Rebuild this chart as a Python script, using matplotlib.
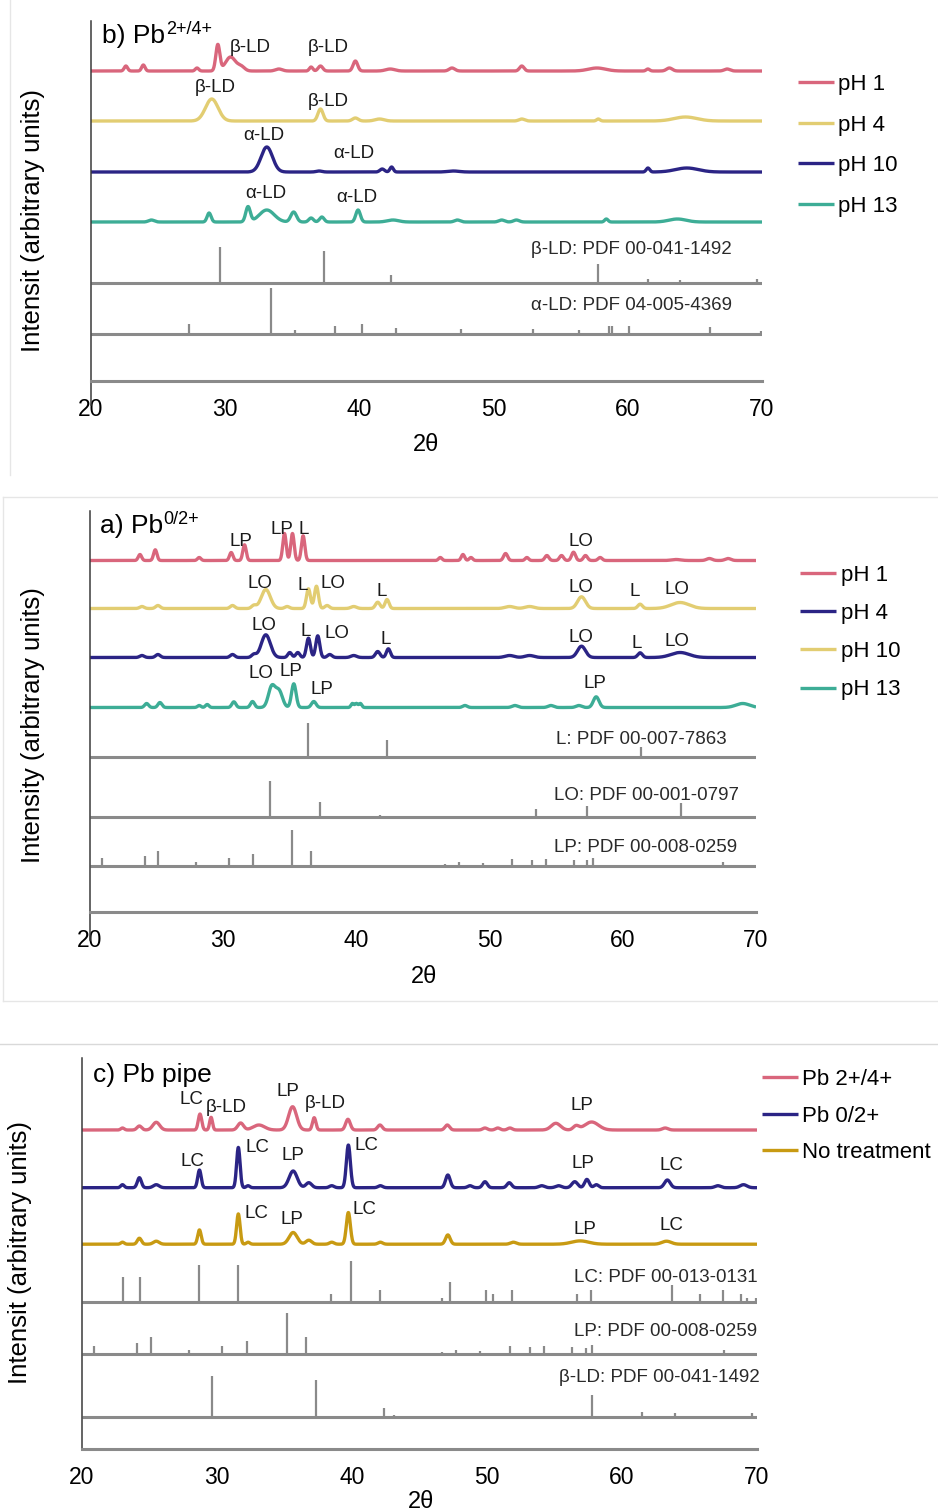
import numpy as np
import matplotlib
matplotlib.use("Agg")
import matplotlib.pyplot as plt
from matplotlib.lines import Line2D

plt.rcParams["font.family"] = ["Liberation Sans", "DejaVu Sans"]

# ---- data ----
# sample patterns: (2theta, peak height, peak FWHM in degrees)
b_ph1 = [(22.6, 5, 0.3), (23.9, 6, 0.3), (27.9, 3, 0.3), (29.45, 26, 0.35), (30.4, 14, 0.9),
         (31.2, 4, 0.6), (34.0, 2, 0.6), (36.4, 4, 0.3), (37.1, 5, 0.4), (39.7, 10, 0.4),
         (42.3, 2, 0.8), (46.9, 3, 0.5), (52.1, 5, 0.4), (57.7, 3, 1.5), (61.5, 2, 0.3),
         (63.1, 3, 0.5), (67.4, 2, 0.5)]
b_ph4 = [(29.0, 22, 1.1), (37.1, 12, 0.45), (39.7, 3, 0.5), (41.5, 2, 0.8), (52.1, 2, 0.5),
         (57.8, 2, 0.3), (64.3, 4, 2.0)]
b_ph10 = [(33.1, 25, 1.0), (37.0, 1, 0.5), (41.7, 3, 0.4), (42.4, 5, 0.3), (47.0, 1, 1.0),
          (61.5, 4, 0.3), (64.4, 4, 2.0)]
b_ph13 = [(24.5, 2, 0.5), (28.8, 9, 0.35), (31.7, 15, 0.4), (33.1, 12, 1.3), (35.1, 10, 0.5),
          (36.4, 4, 0.4), (37.2, 5, 0.4), (39.9, 12, 0.4), (42.5, 2, 1.0), (47.3, 2, 0.5),
          (50.6, 2, 0.5), (51.7, 2, 0.5), (58.4, 3, 0.3), (63.7, 3, 1.5)]

a_ph1 = [(23.75, 6, 0.3), (24.9, 10.7, 0.3), (28.2, 3, 0.3), (30.6, 8, 0.3), (31.6, 15.7, 0.3),
         (34.6, 27, 0.3), (35.2, 27, 0.3), (36.0, 24.7, 0.3), (46.3, 3, 0.3), (48.0, 6, 0.3),
         (48.6, 3, 0.3), (51.2, 7, 0.35), (52.8, 3, 0.3), (54.3, 5, 0.35), (55.4, 5, 0.35),
         (56.3, 8.3, 0.35), (57.2, 5, 0.35), (58.3, 3, 0.35), (64.0, 1, 0.8), (66.5, 2, 0.5),
         (67.9, 2, 0.5)]
a_ph10 = [(23.9, 2, 0.4), (25.1, 3, 0.4), (30.7, 3, 0.4), (32.3, 3, 0.4), (33.2, 19, 0.8),
          (34.8, 2, 0.4), (36.4, 19.7, 0.35), (37.0, 22.3, 0.35), (37.8, 3, 0.4), (39.8, 2, 0.5),
          (41.6, 6.3, 0.4), (42.3, 9, 0.35), (51.5, 2, 0.8), (53.0, 2, 0.8), (56.9, 11.7, 0.7),
          (61.3, 4.3, 0.4), (64.3, 6, 1.6)]
a_ph4 = [(23.9, 2, 0.4), (25.1, 3, 0.4), (30.7, 3, 0.4), (32.3, 3, 0.4), (33.2, 22.7, 0.8),
         (35.0, 5, 0.35), (35.6, 5, 0.35), (36.4, 19.3, 0.35), (37.1, 21.7, 0.35), (38.0, 3, 0.4),
         (39.8, 2, 0.5), (41.6, 6, 0.4), (42.4, 8.7, 0.35), (51.5, 2, 0.8), (53.0, 2, 0.8),
         (56.9, 11.3, 0.7), (61.3, 4.7, 0.4), (64.3, 5, 1.6)]
a_ph13 = [(24.25, 4, 0.35), (25.25, 5, 0.35), (28.2, 2, 0.3), (28.8, 3, 0.3), (30.8, 5.7, 0.35),
          (32.2, 6, 0.35), (33.65, 21, 0.6), (34.2, 16, 0.6), (35.3, 23.7, 0.4), (36.8, 6, 0.4),
          (39.7, 4, 0.25), (40.0, 4, 0.25), (40.3, 4, 0.25), (48.15, 2, 0.4), (51.9, 2, 0.5),
          (54.6, 2, 0.5), (56.7, 2, 0.5), (58.0, 10.7, 0.5), (69.0, 4, 1.2)]

c_pb24 = [(23.0, 2, 0.3), (24.25, 4, 0.4), (25.5, 7.7, 0.6), (28.74, 16, 0.3), (29.56, 12.7, 0.25),
          (31.75, 7, 0.5), (33.1, 5, 1.0), (35.6, 23.3, 0.7), (37.2, 12.3, 0.3), (39.7, 10.7, 0.4),
          (42.07, 5, 0.4), (47.06, 5, 0.4), (49.85, 2, 0.4), (50.8, 2, 0.4), (51.7, 2, 0.4),
          (55.1, 6.7, 0.8), (56.6, 4, 0.5), (57.75, 8, 1.2), (63.2, 2, 0.5)]
c_pb02 = [(23.0, 3, 0.3), (24.25, 10, 0.35), (25.5, 3, 0.5), (28.7, 17.7, 0.3), (31.58, 40.3, 0.3),
          (32.3, 2, 0.3), (35.64, 16.7, 0.7), (36.8, 5, 0.5), (38.5, 2, 0.4), (39.73, 42.7, 0.35),
          (42.1, 2, 0.4), (47.1, 12.7, 0.4), (48.74, 2, 0.4), (49.85, 6, 0.4), (51.65, 5, 0.4),
          (54.05, 2, 0.5), (55.3, 2, 0.5), (56.5, 6, 0.5), (57.4, 8.3, 0.4), (58.1, 3, 0.4),
          (63.36, 7.7, 0.5), (67.1, 2, 0.5), (69.0, 3, 0.6)]
c_none = [(23.0, 2, 0.3), (24.25, 6, 0.35), (25.5, 3, 0.5), (28.7, 14.3, 0.3), (31.58, 30.3, 0.3),
          (32.3, 2, 0.3), (35.64, 11.7, 0.7), (36.8, 4, 0.5), (38.5, 2, 0.4), (39.73, 31.7, 0.35),
          (42.1, 2, 0.4), (47.1, 9.3, 0.4), (51.95, 2, 0.5), (56.9, 3.3, 1.5), (63.3, 3, 0.8)]

# reference cards: stick positions and relative intensities
beta_ld_pos = [29.6, 37.35, 42.35, 43.1, 57.8, 61.5, 63.9, 69.65]
beta_ld_int = [100, 89, 22, 3, 52, 12, 8, 10]
alpha_ld_pos = [27.3, 33.4, 35.2, 38.2, 40.2, 42.7, 47.6, 52.9, 56.4, 58.6, 58.8, 60.1, 66.1, 69.9]
alpha_ld_int = [22, 100, 9, 17, 22, 13, 11, 11, 9, 17, 17, 17, 15, 7]
l_pos = [36.4, 42.3, 61.4]
l_int = [100, 50, 29]
lo_pos = [33.5, 37.3, 41.8, 53.5, 57.3, 64.4]
lo_int = [100, 41, 6, 22, 31, 39]
lp_pos = [20.9, 24.1, 25.1, 27.95, 30.4, 32.2, 35.17, 36.6, 46.65, 47.7, 49.5, 51.68, 53.18,
          54.22, 56.3, 57.3, 57.75, 67.55]
lp_int = [21, 27, 42, 11, 21, 33, 100, 42, 6, 11, 8, 19, 17, 19, 17, 16, 22, 11]
lc_pos = [23.06, 24.3, 28.67, 31.56, 38.47, 39.9, 42.07, 46.67, 47.29, 49.92, 50.45, 51.88,
          56.7, 57.67, 63.73, 65.8, 67.45, 68.8, 69.25, 69.92]
lc_int = [61, 61, 91, 91, 20, 100, 30, 11, 50, 30, 20, 30, 20, 30, 41, 20, 30, 20, 10, 10]

b_labels = ["pH 1", "pH 4", "pH 10", "pH 13"]
a_labels = ["pH 1", "pH 10", "pH 4", "pH 13"]
a_legend_order = [0, 2, 1, 3]
c_labels = ["Pb 2+/4+", "Pb 0/2+", "No treatment"]
xticks = [20, 30, 40, 50, 60, 70]

# ---- styling ----
PINK = "#d9667c"
YELLOW = "#e2cd72"
NAVY = "#2b2485"
TEAL = "#3dad96"
GOLD = "#c89a12"
GREY = "#8a8a8a"

W, H = 938, 1511
fig = plt.figure(figsize=(W / 100, H / 100), dpi=100)
twotheta = np.linspace(20, 70, 2501)


def fx(px):
    return px / W


def fy(py):
    return 1 - py / H


def make_axes(left, right, top, bottom, ext):
    # ext: how far the left spine runs on below the x axis
    ax = fig.add_axes([fx(left), fy(bottom + ext), (right - left) / W, (bottom + ext - top) / H])
    ax.set_xlim(20, 70)
    ax.set_ylim(-ext, bottom - top)
    for s in ["top", "right"]:
        ax.spines[s].set_visible(False)
    ax.spines["left"].set_color("#3a3a3a")
    ax.spines["left"].set_linewidth(1.1)
    ax.spines["bottom"].set_position(("data", 0))
    ax.spines["bottom"].set_color(GREY)
    ax.spines["bottom"].set_linewidth(2.2)
    ax.set_xticks(xticks)
    ax.set_yticks([])
    ax.tick_params(axis="x", length=0, pad=12, labelsize=16.5)
    return ax


def pattern(ax, peaks, offset, color, label):
    y = np.full_like(twotheta, offset, dtype=float)
    for pos, hgt, fwhm in peaks:
        y += hgt * np.exp(-4 * np.log(2) * (twotheta - pos) ** 2 / fwhm ** 2)
    line, = ax.plot(twotheta, y, color=color, lw=2.4, label=label, solid_capstyle="butt")
    return line


def card(ax, pos, inten, offset, scale, text, tx, ty):
    ax.hlines(offset, 20, 70, color=GREY, lw=2.2)
    ax.vlines(pos, offset, offset + np.array(inten) * scale / 100, color=GREY, lw=1.6)
    ax.text(tx, ty, text, ha="center", va="center", fontsize=13.5, color="#2a2a2a")


def note(ax, items):
    for s, x, y in items:
        ax.text(x, y, s, ha="center", va="center", fontsize=13.5, color="#1a1a1a")


def frame_line(x0, y0, x1, y1, color="#e6e6e6"):
    fig.add_artist(Line2D([fx(x0), fx(x1)], [fy(y0), fy(y1)], transform=fig.transFigure,
                          color=color, lw=1))


# ---------------- panel b ----------------
axb = make_axes(91, 762, 21, 381, 24)
lb = [pattern(axb, b_ph1, 310, PINK, b_labels[0]),
      pattern(axb, b_ph4, 260, YELLOW, b_labels[1]),
      pattern(axb, b_ph10, 209, NAVY, b_labels[2]),
      pattern(axb, b_ph13, 159, TEAL, b_labels[3])]
card(axb, beta_ld_pos, beta_ld_int, 98, 36, "β-LD: PDF 00-041-1492", 60.3, 132)
card(axb, alpha_ld_pos, alpha_ld_int, 47, 46, "α-LD: PDF 04-005-4369", 60.3, 76)
note(axb, [("β-LD", 31.85, 333), ("β-LD", 37.66, 334), ("β-LD", 29.24, 294), ("β-LD", 37.66, 280),
           ("α-LD", 32.89, 245), ("α-LD", 39.6, 228), ("α-LD", 33.04, 188), ("α-LD", 39.82, 184)])
fig.legend(handles=lb, labels=b_labels, loc="upper left", bbox_to_anchor=(fx(798), fy(74)),
           frameon=False, fontsize=16, handlelength=1.6, handletextpad=0.18,
           labelspacing=0.88, borderpad=0, borderaxespad=0)
fig.text(fx(102), fy(43), "b) Pb", fontsize=19, va="baseline")
fig.text(fx(166), fy(34), "2+/4+", fontsize=13, va="baseline")
fig.text(fx(33), fy(220), "Intensit (arbitrary units)", rotation=90, ha="center", va="center",
         fontsize=18.5)
fig.text(fx(426), fy(445), "2θ", ha="center", va="center", fontsize=17)

# ---------------- panel a ----------------
axa = make_axes(90, 756, 511, 912, 28)
la = [pattern(axa, a_ph1, 351.5, PINK, a_labels[0]),
      pattern(axa, a_ph10, 303.5, YELLOW, a_labels[1]),
      pattern(axa, a_ph4, 254.5, NAVY, a_labels[2]),
      pattern(axa, a_ph13, 204.5, TEAL, a_labels[3])]
card(axa, l_pos, l_int, 154.7, 34.7, "L: PDF 00-007-7863", 61.4, 173)
card(axa, lo_pos, lo_int, 95.3, 36, "LO: PDF 00-001-0797", 61.8, 117)
card(axa, lp_pos, lp_int, 46, 36, "LP: PDF 00-008-0259", 61.7, 65)
note(axa, [("LP", 31.34, 370), ("LP", 34.39, 383), ("L", 36.07, 383), ("LO", 56.86, 371),
           ("LO", 32.76, 329), ("L", 35.97, 326), ("LO", 38.27, 329), ("L", 41.9, 321),
           ("LO", 56.84, 325), ("L", 60.92, 320), ("LO", 64.05, 322),
           ("LO", 33.09, 286), ("L", 36.22, 281), ("LO", 38.52, 279), ("L", 42.22, 272),
           ("LO", 56.86, 275), ("L", 61.04, 269), ("LO", 64.09, 271),
           ("LO", 32.84, 239), ("LP", 35.07, 241), ("LP", 37.4, 223), ("LP", 57.91, 229)])
fig.legend(handles=[la[i] for i in a_legend_order], labels=[a_labels[i] for i in a_legend_order],
           loc="upper left", bbox_to_anchor=(fx(800), fy(564.5)), frameon=False, fontsize=16,
           handlelength=1.6, handletextpad=0.25, labelspacing=0.78, borderpad=0, borderaxespad=0)
fig.text(fx(100), fy(533), "a) Pb", fontsize=19, va="baseline")
fig.text(fx(163), fy(524), "0/2+", fontsize=13, va="baseline")
fig.text(fx(33), fy(725), "Intensity (arbitrary units)", rotation=90, ha="center", va="center",
         fontsize=18.5)
fig.text(fx(424), fy(977), "2θ", ha="center", va="center", fontsize=17)

# ---------------- panel c ----------------
axc = make_axes(82, 757, 1058, 1449, 0)
lc = [pattern(axc, c_pb24, 319, PINK, c_labels[0]),
      pattern(axc, c_pb02, 261.3, NAVY, c_labels[1]),
      pattern(axc, c_none, 204.8, GOLD, c_labels[2])]
card(axc, lc_pos, lc_int, 146.7, 41, "LC: PDF 00-013-0131", 63.26, 172)
card(axc, lp_pos, lp_int, 94.7, 41.7, "LP: PDF 00-008-0259", 63.26, 117)
card(axc, beta_ld_pos, beta_ld_int, 32.3, 41, "β-LD: PDF 00-041-1492", 62.8, 71)
note(axc, [("LC", 28.07, 350), ("β-LD", 30.72, 342), ("LP", 35.28, 357), ("β-LD", 38.05, 346),
           ("LP", 57.01, 343),
           ("LC", 28.17, 288), ("LC", 32.99, 302), ("LP", 35.65, 293), ("LC", 41.04, 304),
           ("LP", 57.09, 286), ("LC", 63.67, 283),
           ("LC", 32.89, 235), ("LP", 35.58, 229), ("LC", 40.89, 240), ("LP", 57.26, 220),
           ("LC", 63.67, 223)])
fig.legend(handles=lc, labels=c_labels, loc="upper left", bbox_to_anchor=(fx(762), fy(1069)),
           frameon=False, fontsize=16, handlelength=1.6, handletextpad=0.2,
           labelspacing=0.7, borderpad=0, borderaxespad=0)
fig.text(fx(93), fy(1082), "c) Pb pipe", fontsize=19, va="baseline")
fig.text(fx(20), fy(1252), "Intensit (arbitrary units)", rotation=90, ha="center", va="center",
         fontsize=18.5)
fig.text(fx(421), fy(1502), "2θ", ha="center", va="center", fontsize=17)

# faint panel borders
frame_line(10, 0, 10, 475)
frame_line(3, 497, 938, 497)
frame_line(3, 497, 3, 1001)
frame_line(3, 1001, 938, 1001)
frame_line(0, 1044, 938, 1044, color="#d9d9d9")

fig.savefig("out.png", dpi=100)
